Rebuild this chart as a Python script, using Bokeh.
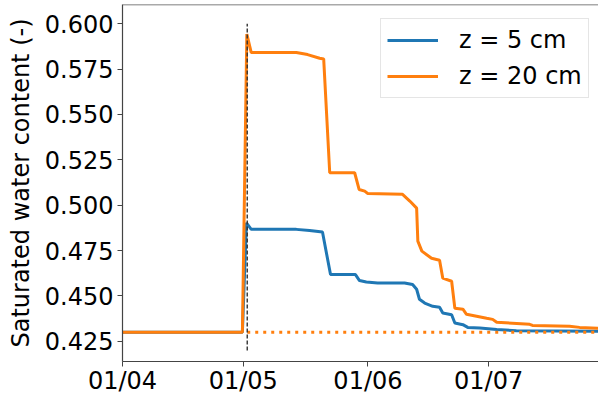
import datetime as dt
from bokeh.plotting import figure
from bokeh.models import (FixedTicker, DatetimeTickFormatter, NumeralTickFormatter,
                          Span, Legend, LegendItem, Range1d)
from bokeh.embed import file_html
from bokeh.resources import INLINE

# ---------------- data ----------------
start = dt.datetime(2021, 4, 1)

days_5cm = [0, 29.8, 30.8, 32.0, 43.2, 46.5, 49.7, 51.7, 57.9, 58.9, 60.6, 63.4,
            70.1, 72.1, 73.1, 73.8, 75.1, 77.1, 78.8, 79.6, 81.8, 82.6, 84.6,
            85.8, 88.8, 93.0, 97.9, 118.1, 120.0]
theta_5cm = [0.430, 0.430, 0.4903, 0.4867, 0.4867, 0.4861, 0.4852, 0.4618, 0.4618,
             0.4585, 0.4577, 0.4572, 0.4572, 0.4563, 0.4537, 0.4482, 0.4461, 0.4443,
             0.4438, 0.4406, 0.4397, 0.4351, 0.4342, 0.4327, 0.4323, 0.4315, 0.4309,
             0.4305, 0.4305]

days_20cm = [0, 29.8, 30.9, 32.0, 43.2, 46.0, 49.0, 50.0, 51.5, 57.7, 58.8, 60.2,
             60.9, 69.6, 71.4, 73.1, 73.4, 74.4, 76.8, 78.8, 79.6, 81.8, 82.6, 84.6,
             85.5, 88.0, 90.5, 92.0, 93.0, 101.2, 101.9, 111.1, 113.6, 118.1, 120.0]
theta_20cm = [0.430, 0.430, 0.5943, 0.5841, 0.5841, 0.5830, 0.5810, 0.5806, 0.5179,
              0.5179, 0.5087, 0.5078, 0.5065, 0.5060, 0.5023, 0.4984, 0.4802, 0.4747,
              0.4708, 0.4697, 0.4598, 0.4581, 0.4432, 0.4427, 0.4399, 0.4388, 0.4377,
              0.4371, 0.4355, 0.4344, 0.4338, 0.4333, 0.4327, 0.4322, 0.4320]

theta_initial = 0.43          # dotted reference level
event_day = 31                # vertical dashed marker
event_span = [0.42, 0.60]
dotted_days = [31, 120]

tick_dates = [dt.datetime(2021, 4, 1), dt.datetime(2021, 5, 1),
              dt.datetime(2021, 6, 1), dt.datetime(2021, 7, 1)]
tick_labels = ["01/04", "01/05", "01/06", "01/07"]   # format %d/%m
y_ticks = [0.425, 0.450, 0.475, 0.500, 0.525, 0.550, 0.575, 0.600]

series_names = ["z = 5 cm", "z = 20 cm"]
colors = ["#1f77b4", "#ff7f0e"]

# ---------------- plot ----------------
def to_dt(ds):
    return [start + dt.timedelta(days=d) for d in ds]

FONT = "DejaVu Sans"
Y0, Y1 = 0.4139, 0.6106

p = figure(width=598, height=397, x_axis_type="datetime",
           output_backend="svg", toolbar_location=None,
           x_range=Range1d(start, start + dt.timedelta(days=118.3)),
           y_range=Range1d(Y0, Y1),
           min_border_left=122, min_border_right=0, min_border_top=4,
           min_border_bottom=0)

p.background_fill_color = "white"
p.border_fill_color = "white"
p.outline_line_color = None
p.xgrid.visible = False
p.ygrid.visible = False

r1 = p.line(to_dt(days_5cm), theta_5cm, line_color=colors[0], line_width=3)
r2 = p.line(to_dt(days_20cm), theta_20cm, line_color=colors[1], line_width=3)

p.line(to_dt(dotted_days), [theta_initial, theta_initial], line_color=colors[1],
       line_width=3, line_dash="3 5")
p.line(to_dt([event_day, event_day]), event_span, line_color="#333333",
       line_width=1.4, line_dash="4 2")

top_spine = Span(location=Y1, dimension="width", line_color="#555555",
                 line_width=1.5)
p.add_layout(top_spine)

# axes
for ax in (p.xaxis[0], p.yaxis[0]):
    ax.axis_line_color = "#444444"
    ax.axis_line_width = 1.2
    ax.major_tick_line_color = "#444444"
    ax.major_tick_out = 5
    ax.major_tick_in = 0
    ax.minor_tick_line_color = None
    ax.major_label_text_font = FONT
    ax.major_label_text_font_size = "24px"
    ax.major_label_text_color = "black"

p.xaxis.ticker = FixedTicker(ticks=[dt.datetime(t.year, t.month, t.day,
                                                tzinfo=dt.timezone.utc).timestamp() * 1000
                                    for t in tick_dates])
fmt = "%d/%m"
p.xaxis.formatter = DatetimeTickFormatter(days=fmt, months=fmt, years=fmt,
                                          hours=fmt, minutes=fmt, seconds=fmt,
                                          milliseconds=fmt, microseconds=fmt,
                                          minsec=fmt, hourmin=fmt)
p.xaxis.major_label_standoff = 0

p.yaxis.ticker = FixedTicker(ticks=y_ticks)
p.yaxis.formatter = NumeralTickFormatter(format="0.000")
p.yaxis.major_label_standoff = 4
p.yaxis.axis_label = "Saturated water content (-)"
p.yaxis.axis_label_text_font = FONT
p.yaxis.axis_label_text_font_size = "24px"
p.yaxis.axis_label_text_font_style = "normal"
p.yaxis.axis_label_text_color = "black"
p.yaxis.axis_label_standoff = 7

legend = Legend(items=[LegendItem(label=series_names[0], renderers=[r1]),
                       LegendItem(label=series_names[1], renderers=[r2])],
                location=(258, 263), padding=6, spacing=6,
                glyph_width=51, glyph_height=30, label_standoff=21,
                label_text_font=FONT, label_text_font_size="24px",
                label_text_color="black", label_height=30,
                border_line_color="#cccccc", border_line_width=1,
                background_fill_alpha=0.8)
p.add_layout(legend)

open("out.html", "w").write(file_html(p, INLINE))
